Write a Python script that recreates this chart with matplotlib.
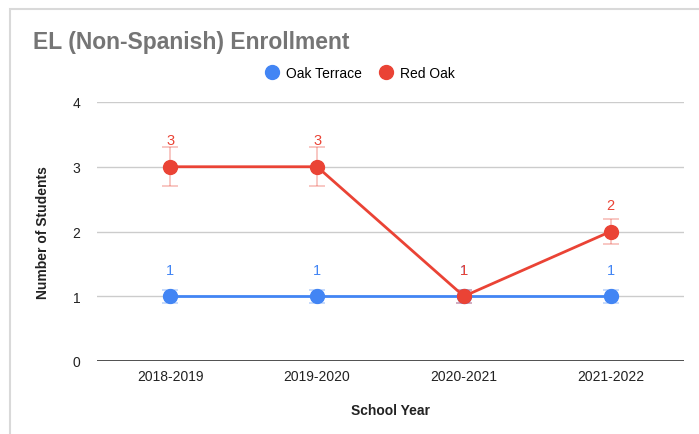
import numpy as np
import matplotlib.pyplot as plt
from matplotlib.patches import Rectangle

plt.rcParams['font.family'] = ['Liberation Sans', 'DejaVu Sans']

years = ['2018-2019', '2019-2020', '2020-2021', '2021-2022']
oak_terrace = [1, 1, 1, 1]
red_oak = [3, 3, 1, 2]

blue = '#4285F4'
red = '#EA4335'

fig = plt.figure(figsize=(6.99, 4.35), dpi=100)
# card frame
fig.patches.append(Rectangle((10 / 699, -0.1), 1.0, 1 - 10 / 435 + 0.1, transform=fig.transFigure,
                             fill=False, edgecolor='#d9d9d9', linewidth=1.5))

ax = fig.add_axes([97 / 699, 1 - 362 / 435, (684 - 97) / 699, (362 - 103) / 435])
x = np.arange(len(years))

for vals, col in [(oak_terrace, blue), (red_oak, red)]:
    vals = np.array(vals, dtype=float)
    ax.errorbar(x, vals, yerr=vals * 0.1, fmt='none', ecolor=col, alpha=0.35,
                elinewidth=1.2, capsize=6, capthick=1.2, zorder=3)
    ax.plot(x, vals, color=col, linewidth=2, marker='o', markersize=10, zorder=4)
    for xi, v in zip(x, vals):
        ax.annotate('%d' % v, (xi, v), xytext=(0, 19), textcoords='offset points',
                    ha='center', va='center', color=col, fontsize=10.5)

ax.set_xlim(-0.5, 3.5)
ax.set_ylim(0, 4)
ax.set_yticks([0, 1, 2, 3, 4])
ax.set_xticks(x)
ax.set_xticklabels(years)
ax.grid(axis='y', color='#cccccc', linewidth=1)
ax.set_axisbelow(True)
for s in ['top', 'right', 'left', 'bottom']:
    ax.spines[s].set_visible(False)
ax.axhline(0, color='#333333', linewidth=1.2, zorder=2)
ax.tick_params(length=0, labelsize=10, colors='#222222', pad=6)
ax.tick_params(axis='y', pad=12)

ax.set_xlabel('School Year', fontsize=10, fontweight='bold', labelpad=14, color='#222222')
ax.set_ylabel('Number of Students', fontsize=10, fontweight='bold', labelpad=16, color='#222222')

fig.text(33 / 699, 1 - 42 / 435, 'EL (Non-Spanish) Enrollment', fontsize=16.5, fontweight='bold',
         color='#757575', ha='left', va='center')

h1, = ax.plot([], [], 'o', color=blue, markersize=10)
h2, = ax.plot([], [], 'o', color=red, markersize=10)
fig.legend([h1, h2], ['Oak Terrace', 'Red Oak'], loc='center', bbox_to_anchor=(360 / 699, 1 - 74 / 435),
           ncol=2, frameon=False, fontsize=10, handletextpad=0.5, columnspacing=1.3, handlelength=1.0)

fig.savefig('out.png', dpi=100)
